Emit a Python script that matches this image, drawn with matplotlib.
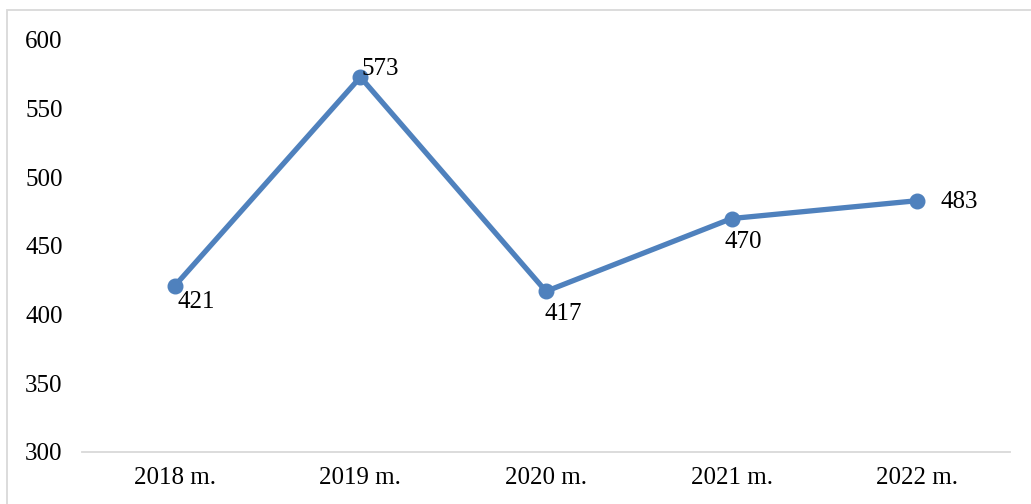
import matplotlib.pyplot as plt
from matplotlib.patches import Rectangle

years = ['2018 m.', '2019 m.', '2020 m.', '2021 m.', '2022 m.']
values = [421, 573, 417, 470, 483]
# label offsets (points) relative to each marker
offsets = [(2, -12), (1, 6), (-1, -16), (-5, -17), (17, -1)]

plt.rcParams['font.family'] = ['Liberation Serif', 'DejaVu Serif']

fig = plt.figure(figsize=(10.31, 5.04), dpi=100)
ax = fig.add_axes([82/1031, 1 - 452/504, 928/1031, 412/504])

x = range(len(years))
ax.plot(x, values, color='#4f81bd', lw=3.8, marker='o', markersize=10.5,
        solid_capstyle='round')

for i, v in enumerate(values):
    ax.annotate(str(v), (i, v), xytext=offsets[i], textcoords='offset points',
                ha='left', va='center', fontsize=18, color='black')

ax.set_xlim(-0.5, len(years) - 0.5)
ax.set_ylim(300, 600)
ax.set_yticks(range(300, 601, 50))
ax.set_xticks(list(x))
ax.set_xticklabels(years)
ax.tick_params(axis='both', length=0, labelsize=18)
ax.tick_params(axis='y', pad=14)
ax.tick_params(axis='x', pad=11)

for s in ['left', 'right', 'top']:
    ax.spines[s].set_visible(False)
ax.spines['bottom'].set_color('#d9d9d9')
ax.spines['bottom'].set_linewidth(1.3)

fig.patches.append(Rectangle((7/1031, -0.1), 1.2, 1.1 - 10/504,
                             transform=fig.transFigure, fill=False,
                             edgecolor='#d9d9d9', lw=1.3))

fig.savefig('out.png', dpi=100)
